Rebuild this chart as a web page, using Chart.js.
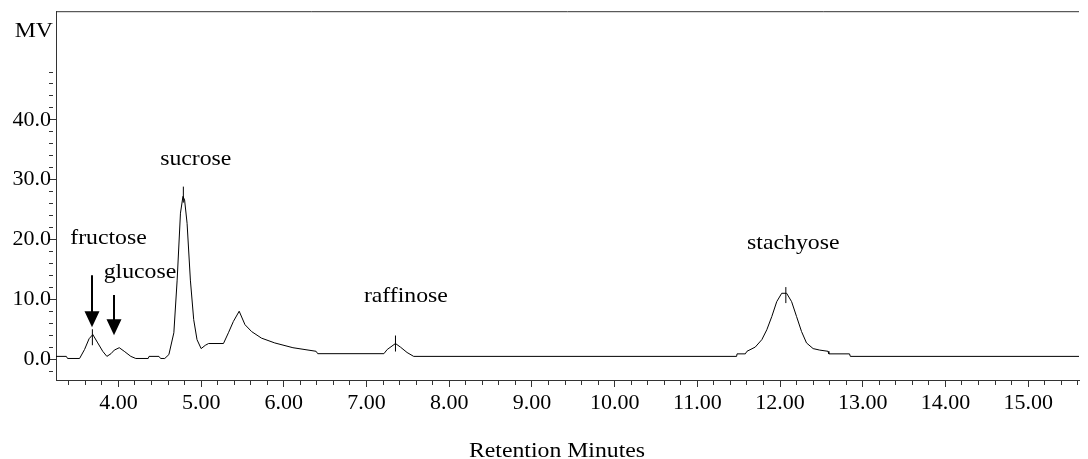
<!DOCTYPE html>
<html><head><meta charset="utf-8">
<script src="https://cdn.jsdelivr.net/npm/chart.js@4.4.1/dist/chart.umd.min.js"></script>
<style>html,body{margin:0;padding:0;background:#fff}#wrap{width:1088px;height:459px;position:relative}</style>
</head><body><div id="wrap"><canvas id="c"></canvas></div>
<script>
// Retention time (minutes) and detector signal (MV)
const times = [3.245,3.37,3.385,3.53,3.59,3.645,3.69,3.75,3.81,3.86,3.91,3.95,4.01,4.07,4.15,4.21,4.36,4.37,4.49,4.51,4.56,4.61,4.67,4.71,4.75,4.78,4.80,4.83,4.87,4.91,4.95,5.00,5.05,5.09,5.27,5.33,5.39,5.46,5.53,5.61,5.73,5.89,6.11,6.39,6.41,7.21,7.25,7.35,7.41,7.49,7.57,11.475,11.48,11.58,11.60,11.70,11.78,11.84,11.90,11.96,12.02,12.08,12.14,12.20,12.26,12.32,12.40,12.48,12.58,12.59,12.84,12.85,15.615];
const signal = [0.45,0.45,0.1,0.1,1.6,3.4,4.1,2.7,1.3,0.45,0.9,1.5,1.9,1.3,0.45,0.1,0.1,0.45,0.45,0.1,0.1,0.75,4.4,13.2,24.4,27.2,26.6,22.7,13.2,6.6,3.25,1.75,2.3,2.6,2.6,4.4,6.3,8.0,5.75,4.6,3.5,2.7,1.9,1.3,0.9,0.9,1.6,2.6,2.0,1.1,0.45,0.45,0.87,0.87,1.3,2.0,3.25,4.9,7.1,9.6,11.0,11.0,9.6,7.1,4.6,2.7,1.75,1.5,1.3,0.87,0.87,0.45,0.45];

// Peak apex marks
const peakTimes = [3.685, 4.785, 7.35, 12.07];
const peakMarks = [3.65, 27.5, 2.6, 10.7];

// Arrows (time, start value, tip value)
const arrowTimes = [3.675, 3.95];
const arrowStart = [14.0, 10.7];
const arrowEnd = [5.3, 4.0];

// Peak names and anchors
const peakNames = ['fructose','glucose','sucrose','raffinose','stachyose'];
const nameTimes = [3.88, 4.26, 4.935, 7.476, 12.16];
const nameValues = [20.2, 14.5, 33.5, 10.5, 19.3];

// Tick labels
const xMajor = [4,5,6,7,8,9,10,11,12,13,14,15];
const yMajor = [0,10,20,30,40];

const FONT = '"Liberation Serif", "Times New Roman", serif';
const AXIS = '#333';
const STRETCH = 1.08;
const near = (v, arr) => arr.some(a => Math.abs(a - v) < 1e-6);

function text(ctx, s, px, py, align) {
  ctx.save();
  ctx.translate(px, py);
  ctx.scale(STRETCH, 1);
  ctx.textAlign = align;
  ctx.fillText(s, 0, 0);
  ctx.restore();
}

const annot = {
  id: 'annot',
  afterDatasetsDraw(chart) {
    const {ctx, chartArea, scales: {x, y}} = chart;
    ctx.save();
    ctx.strokeStyle = AXIS; ctx.lineWidth = 1;
    ctx.beginPath();
    ctx.moveTo(chartArea.left, chartArea.top + 0.5);
    ctx.lineTo(chartArea.right, chartArea.top + 0.5);
    ctx.stroke();
    ctx.fillStyle = '#000'; ctx.strokeStyle = '#000'; ctx.lineWidth = 2;
    arrowTimes.forEach((t, i) => {
      const px = Math.round(x.getPixelForValue(t));
      const y0 = y.getPixelForValue(arrowStart[i]);
      const y1 = y.getPixelForValue(arrowEnd[i]);
      const head = 16, hw = 7.5;
      ctx.beginPath(); ctx.moveTo(px, y0); ctx.lineTo(px, y1 - head + 1); ctx.stroke();
      ctx.beginPath(); ctx.moveTo(px - hw, y1 - head); ctx.lineTo(px + hw, y1 - head); ctx.lineTo(px, y1); ctx.closePath(); ctx.fill();
    });
    ctx.font = '22px ' + FONT; ctx.textBaseline = 'middle'; ctx.fillStyle = '#000';
    peakNames.forEach((n, i) => text(ctx, n, x.getPixelForValue(nameTimes[i]), y.getPixelForValue(nameValues[i]), 'center'));
    text(ctx, 'MV', chartArea.left - 3, 31, 'right');
    text(ctx, 'Retention Minutes', 557, 451, 'center');
    ctx.restore();
  }
};

new Chart(document.getElementById('c'), {
  type: 'line',
  data: {
    datasets: [
      {
        data: times.map((t, i) => ({x: t, y: signal[i]})),
        borderColor: '#000', borderWidth: 1, pointRadius: 0, tension: 0, fill: false
      },
      {
        type: 'scatter',
        data: peakTimes.map((t, i) => ({x: t, y: peakMarks[i]})),
        pointStyle: 'line', rotation: 90, radius: 8, borderColor: '#000', borderWidth: 1, showLine: false
      }
    ]
  },
  options: {
    responsive: true, maintainAspectRatio: false, animation: false,
    layout: {padding: {top: 10, right: 0, left: 0, bottom: 0}},
    plugins: {legend: {display: false}, tooltip: {enabled: false}},
    scales: {
      x: {
        type: 'linear', min: 3.245, max: 15.615,
        afterFit: s => { s.height = 79; },
        border: {display: true, color: AXIS, width: 1},
        grid: {
          display: true, drawOnChartArea: false, drawTicks: true, tickLength: 7, tickColor: AXIS,
          tickBorderDash: c => (c.tick && near(c.tick.value, xMajor)) ? [] : [4, 40]
        },
        ticks: {
          stepSize: 0.2, includeBounds: false, autoSkip: false, maxRotation: 0, minRotation: 0,
          padding: 3, color: '#000', font: {family: FONT, size: 22},
          callback: v => near(v, xMajor) ? Math.round(v).toFixed(2) : ''
        }
      },
      y: {
        type: 'linear', min: -3.5, max: 58.17,
        afterFit: s => { s.width = 56; },
        border: {display: true, color: AXIS, width: 1},
        grid: {
          display: true, drawOnChartArea: false, drawTicks: true, tickLength: 7,
          tickColor: c => (c.tick && c.tick.value > 48.5) ? 'rgba(0,0,0,0)' : AXIS,
          tickBorderDash: c => (c.tick && near(c.tick.value, yMajor)) ? [] : [4, 40]
        },
        ticks: {
          stepSize: 2, includeBounds: false, autoSkip: false,
          padding: -2, color: '#000', font: {family: FONT, size: 22},
          callback: v => near(v, yMajor) ? Math.round(v).toFixed(1) : ''
        }
      }
    }
  },
  plugins: [annot]
});
</script>
</body></html>
